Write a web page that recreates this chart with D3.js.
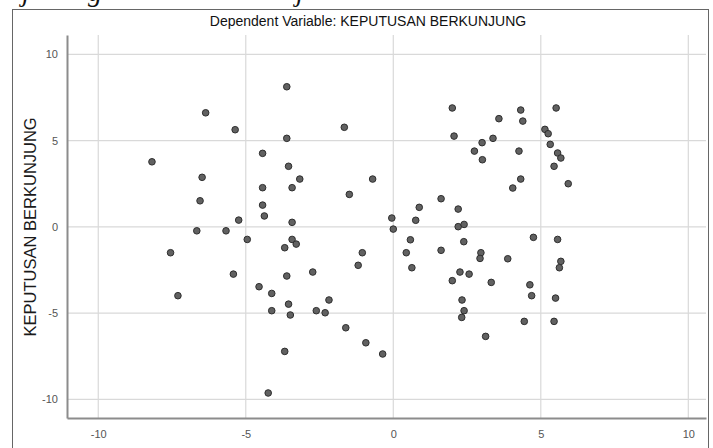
<!DOCTYPE html>
<html>
    <head>
    <meta charset="utf-8">
    <title>Partial Regression Plot</title>
    <script src="https://d3js.org/d3.v7.min.js"></script>
    <style>
        body { margin: 0; background: white; }
    </style>
    </head>
    <body>
        <div id="my_dataviz"></div>
    </body>

    <script>
        // data (x = other predictors residual, y = KEPUTUSAN BERKUNJUNG residual)
        var xValues = [
            -6.36, -5.36, -8.18, -6.48, -6.55, -5.24, -6.66, -5.67, -4.95, -7.55, -5.42, -7.30,
            -3.61, -1.66, -3.61, -4.43, -3.55, -3.17, -4.43, -3.43, -1.49, -0.70, -4.43, -4.37,
            -3.43, -3.43, -3.29, -3.68, -1.05, -1.19, -2.73, -3.61, -4.55, -4.12, -2.18, -3.55,
            -4.12, -2.61, -2.31, -3.49, -1.61, -0.93, -3.68, -4.24,
            2.00, 2.06, 2.75, 1.62, 0.88, 2.20, -0.05, 0.76, 0.00, 2.20, 2.40, 0.58, 2.39, 0.44,
            1.62, 2.97, 2.94, 0.63, 2.26, 2.57, 2.00, 2.33, 2.40, 2.32, -0.36,
            5.52, 4.32, 3.58, 4.39, 5.14, 5.25, 3.38, 3.01, 5.32, 4.26, 5.57, 5.68, 3.02, 5.45,
            4.32, 4.05, 5.93, 4.75, 5.57, 3.88, 5.68, 5.63, 3.32, 4.63, 4.69, 5.50, 4.44, 5.45, 3.13
        ]
        var yValues = [
            6.61, 5.63, 3.77, 2.87, 1.51, 0.39, -0.23, -0.23, -0.73, -1.50, -2.74, -3.99,
            8.12, 5.77, 5.13, 4.26, 3.51, 2.77, 2.27, 2.27, 1.88, 2.77, 1.26, 0.63,
            0.26, -0.73, -1.00, -1.21, -1.50, -2.23, -2.62, -2.85, -3.47, -3.86, -4.24, -4.48,
            -4.86, -4.86, -4.98, -5.11, -5.85, -6.72, -7.22, -9.63,
            6.89, 5.26, 4.39, 1.63, 1.13, 1.03, 0.51, 0.38, -0.13, 0.01, 0.14, -0.75, -0.86, -1.50,
            -1.36, -1.50, -1.83, -2.37, -2.62, -2.74, -3.12, -4.24, -4.86, -5.25, -7.37,
            6.89, 6.77, 6.27, 6.13, 5.65, 5.40, 5.13, 4.88, 4.78, 4.39, 4.28, 3.99, 3.89, 3.51,
            2.77, 2.25, 2.50, -0.61, -0.73, -1.85, -2.00, -2.37, -3.22, -3.36, -3.99, -4.13, -5.48, -5.48, -6.35
        ]
        var xTicks = [-10, -5, 0, 5, 10]
        var yTicks = [-10, -5, 0, 5, 10]
        var chartTitle = "Dependent Variable: KEPUTUSAN BERKUNJUNG"
        var yLabel = "KEPUTUSAN BERKUNJUNG"

        var data = xValues.map(function (v, i) { return { x: v, y: yValues[i] } })

        var W = 713, H = 448
        var margin = { top: 35, right: 7, bottom: 30, left: 67 },
            width = W - margin.left - margin.right,
            height = H - margin.top - margin.bottom

        var root = d3.select("#my_dataviz")
            .append("svg")
            .attr("width", W)
            .attr("height", H)

        // bit of document text cut off above the chart (only descenders show, as in the source)
        var cut = [{ t: "j", x: 22 }, { t: "g", x: 88 }, { t: "j", x: 296 }]
        root.selectAll(".cut")
            .data(cut)
            .enter().append("text")
            .attr("class", "cut")
            .attr("x", function (d) { return d.x })
            .attr("y", 1)
            .style("font-family", "Liberation Serif, serif")
            .style("font-style", "italic")
            .style("font-size", "28px")
            .style("fill", "#111")
            .text(function (d) { return d.t })

        // outer chart frame
        root.append("rect")
            .attr("x", 12.5)
            .attr("y", 9.5)
            .attr("width", 696)
            .attr("height", 460)
            .attr("fill", "white")
            .attr("stroke", "#666")
            .attr("stroke-width", 1)

        var svg = root.append("g")
            .attr("transform", "translate(" + margin.left + "," + margin.top + ")")

        var x = d3.scaleLinear().domain([-11.06, 10.6]).range([0, width])
        var y = d3.scaleLinear().domain([-11.08, 11.12]).range([height, 0])

        // gridlines
        svg.selectAll(".vgrid")
            .data(xTicks)
            .enter().append("line")
            .attr("x1", function (d) { return x(d) })
            .attr("x2", function (d) { return x(d) })
            .attr("y1", 0)
            .attr("y2", height)
            .attr("stroke", "#d9d9d9")
            .attr("stroke-width", 1.2)

        svg.selectAll(".hgrid")
            .data(yTicks)
            .enter().append("line")
            .attr("x1", 0)
            .attr("x2", width)
            .attr("y1", function (d) { return y(d) })
            .attr("y2", function (d) { return y(d) })
            .attr("stroke", "#d9d9d9")
            .attr("stroke-width", 1.2)

        // axes, plain hyphen for negatives like SPSS
        var fmt = function (d) { return String(d) }
        var xAxis = svg.append("g")
            .attr("transform", "translate(0," + height + ")")
            .call(d3.axisBottom(x).tickValues(xTicks).tickFormat(fmt).tickSize(0).tickPadding(12))
        var yAxis = svg.append("g")
            .call(d3.axisLeft(y).tickValues(yTicks).tickFormat(fmt).tickSize(0).tickPadding(9))

        ;[xAxis, yAxis].forEach(function (a) {
            a.select(".domain").attr("stroke", "#8c8c8c").attr("stroke-width", 2)
            a.selectAll("text")
                .style("font-family", "Liberation Sans Narrow, Liberation Sans, Arial, sans-serif")
                .style("font-size", "11px")
                .style("fill", "#555")
        })

        // points
        svg.selectAll(".dot")
            .data(data)
            .enter().append("circle")
            .attr("class", "dot")
            .attr("cx", function (d) { return x(d.x) })
            .attr("cy", function (d) { return y(d.y) })
            .attr("r", 3.3)
            .attr("fill", "#616161")
            .attr("stroke", "#2e2e2e")
            .attr("stroke-width", 1)

        // title
        root.append("text")
            .attr("x", 368)
            .attr("y", 26)
            .attr("text-anchor", "middle")
            .style("font-family", "Liberation Sans, Arial, sans-serif")
            .style("font-size", "14px")
            .style("fill", "#111")
            .text(chartTitle)

        // Y axis label
        root.append("text")
            .attr("transform", "translate(36," + (margin.top + y(0)) + ") rotate(-90)")
            .attr("text-anchor", "middle")
            .style("font-family", "Liberation Sans, Arial, sans-serif")
            .style("font-size", "16.5px")
            .style("fill", "#1a1a1a")
            .text(yLabel)
    </script>
</html>
